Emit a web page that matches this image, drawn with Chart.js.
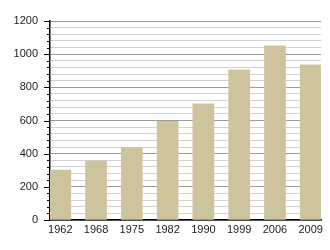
<!DOCTYPE html>
<html>
<head>
<meta charset="utf-8">
<script src="https://cdn.jsdelivr.net/npm/chart.js@4/dist/chart.umd.min.js"></script>
<style>
  html, body { margin: 0; padding: 0; background: #fff; }
  #wrap { width: 330px; height: 250px; }
</style>
</head>
<body>
<div id="wrap"><canvas id="c"></canvas></div>
<script>
  const years = ["1962", "1968", "1975", "1982", "1990", "1999", "2006", "2009"];
  const values = [301, 356, 436, 595, 700, 905, 1051, 935];
  const yTicks = [0, 200, 400, 600, 800, 1000, 1200];

  const barColor = "#cdc49e";
  const edge = 0.2876;

  // small tick marks on the left axis, longer ones at labelled values
  const axisTicks = {
    id: "axisTicks",
    afterDraw(chart) {
      const y = chart.scales.y;
      const ctx = chart.ctx;
      const x0 = chart.chartArea.left;
      ctx.save();
      ctx.strokeStyle = "#000";
      ctx.lineWidth = 1;
      y.ticks.forEach((t) => {
        const py = Math.round(y.getPixelForValue(t.value)) + 0.5;
        const len = yTicks.includes(t.value) ? 6 : 3;
        ctx.beginPath();
        ctx.moveTo(x0 - len, py);
        ctx.lineTo(x0, py);
        ctx.stroke();
      });
      ctx.restore();
    }
  };

  new Chart(document.getElementById("c"), {
    type: "bar",
    data: {
      datasets: [{
        data: values.map((v, i) => ({ x: i, y: v })),
        backgroundColor: barColor,
        barThickness: 21
      }]
    },
    options: {
      responsive: true,
      maintainAspectRatio: false,
      animation: false,
      layout: { padding: { top: 21, right: 9, left: 0, bottom: 0 } },
      plugins: { legend: { display: false }, tooltip: { enabled: false } },
      scales: {
        x: {
          type: "linear",
          offset: false,
          min: -edge,
          max: 7 + edge,
          grid: { display: false, offset: false, drawTicks: false },
          border: { color: "#000", width: 1.5 },
          afterFit: (s) => { s.height = 30; },
          ticks: {
            stepSize: 1,
            includeBounds: false,
            autoSkip: false,
            maxRotation: 0,
            padding: 3,
            color: "#222",
            font: { family: "Liberation Sans", size: 11 },
            callback: (v) => years[v] ?? ""
          }
        },
        y: {
          min: 0,
          max: 1200,
          afterFit: (s) => { s.width = 50; },
          border: { color: "#000", width: 1.5 },
          grid: {
            drawTicks: false,
            color: (c) => (c.tick && c.tick.value % 200 === 0 ? "#9a9a9a" : "#d2d2d2"),
            lineWidth: 1
          },
          ticks: {
            stepSize: 40,
            autoSkip: false,
            padding: 12,
            color: "#222",
            font: { family: "Liberation Sans", size: 11 },
            callback: (v) => (yTicks.includes(v) ? String(v) : "")
          }
        }
      }
    },
    plugins: [axisTicks]
  });
</script>
</body>
</html>
